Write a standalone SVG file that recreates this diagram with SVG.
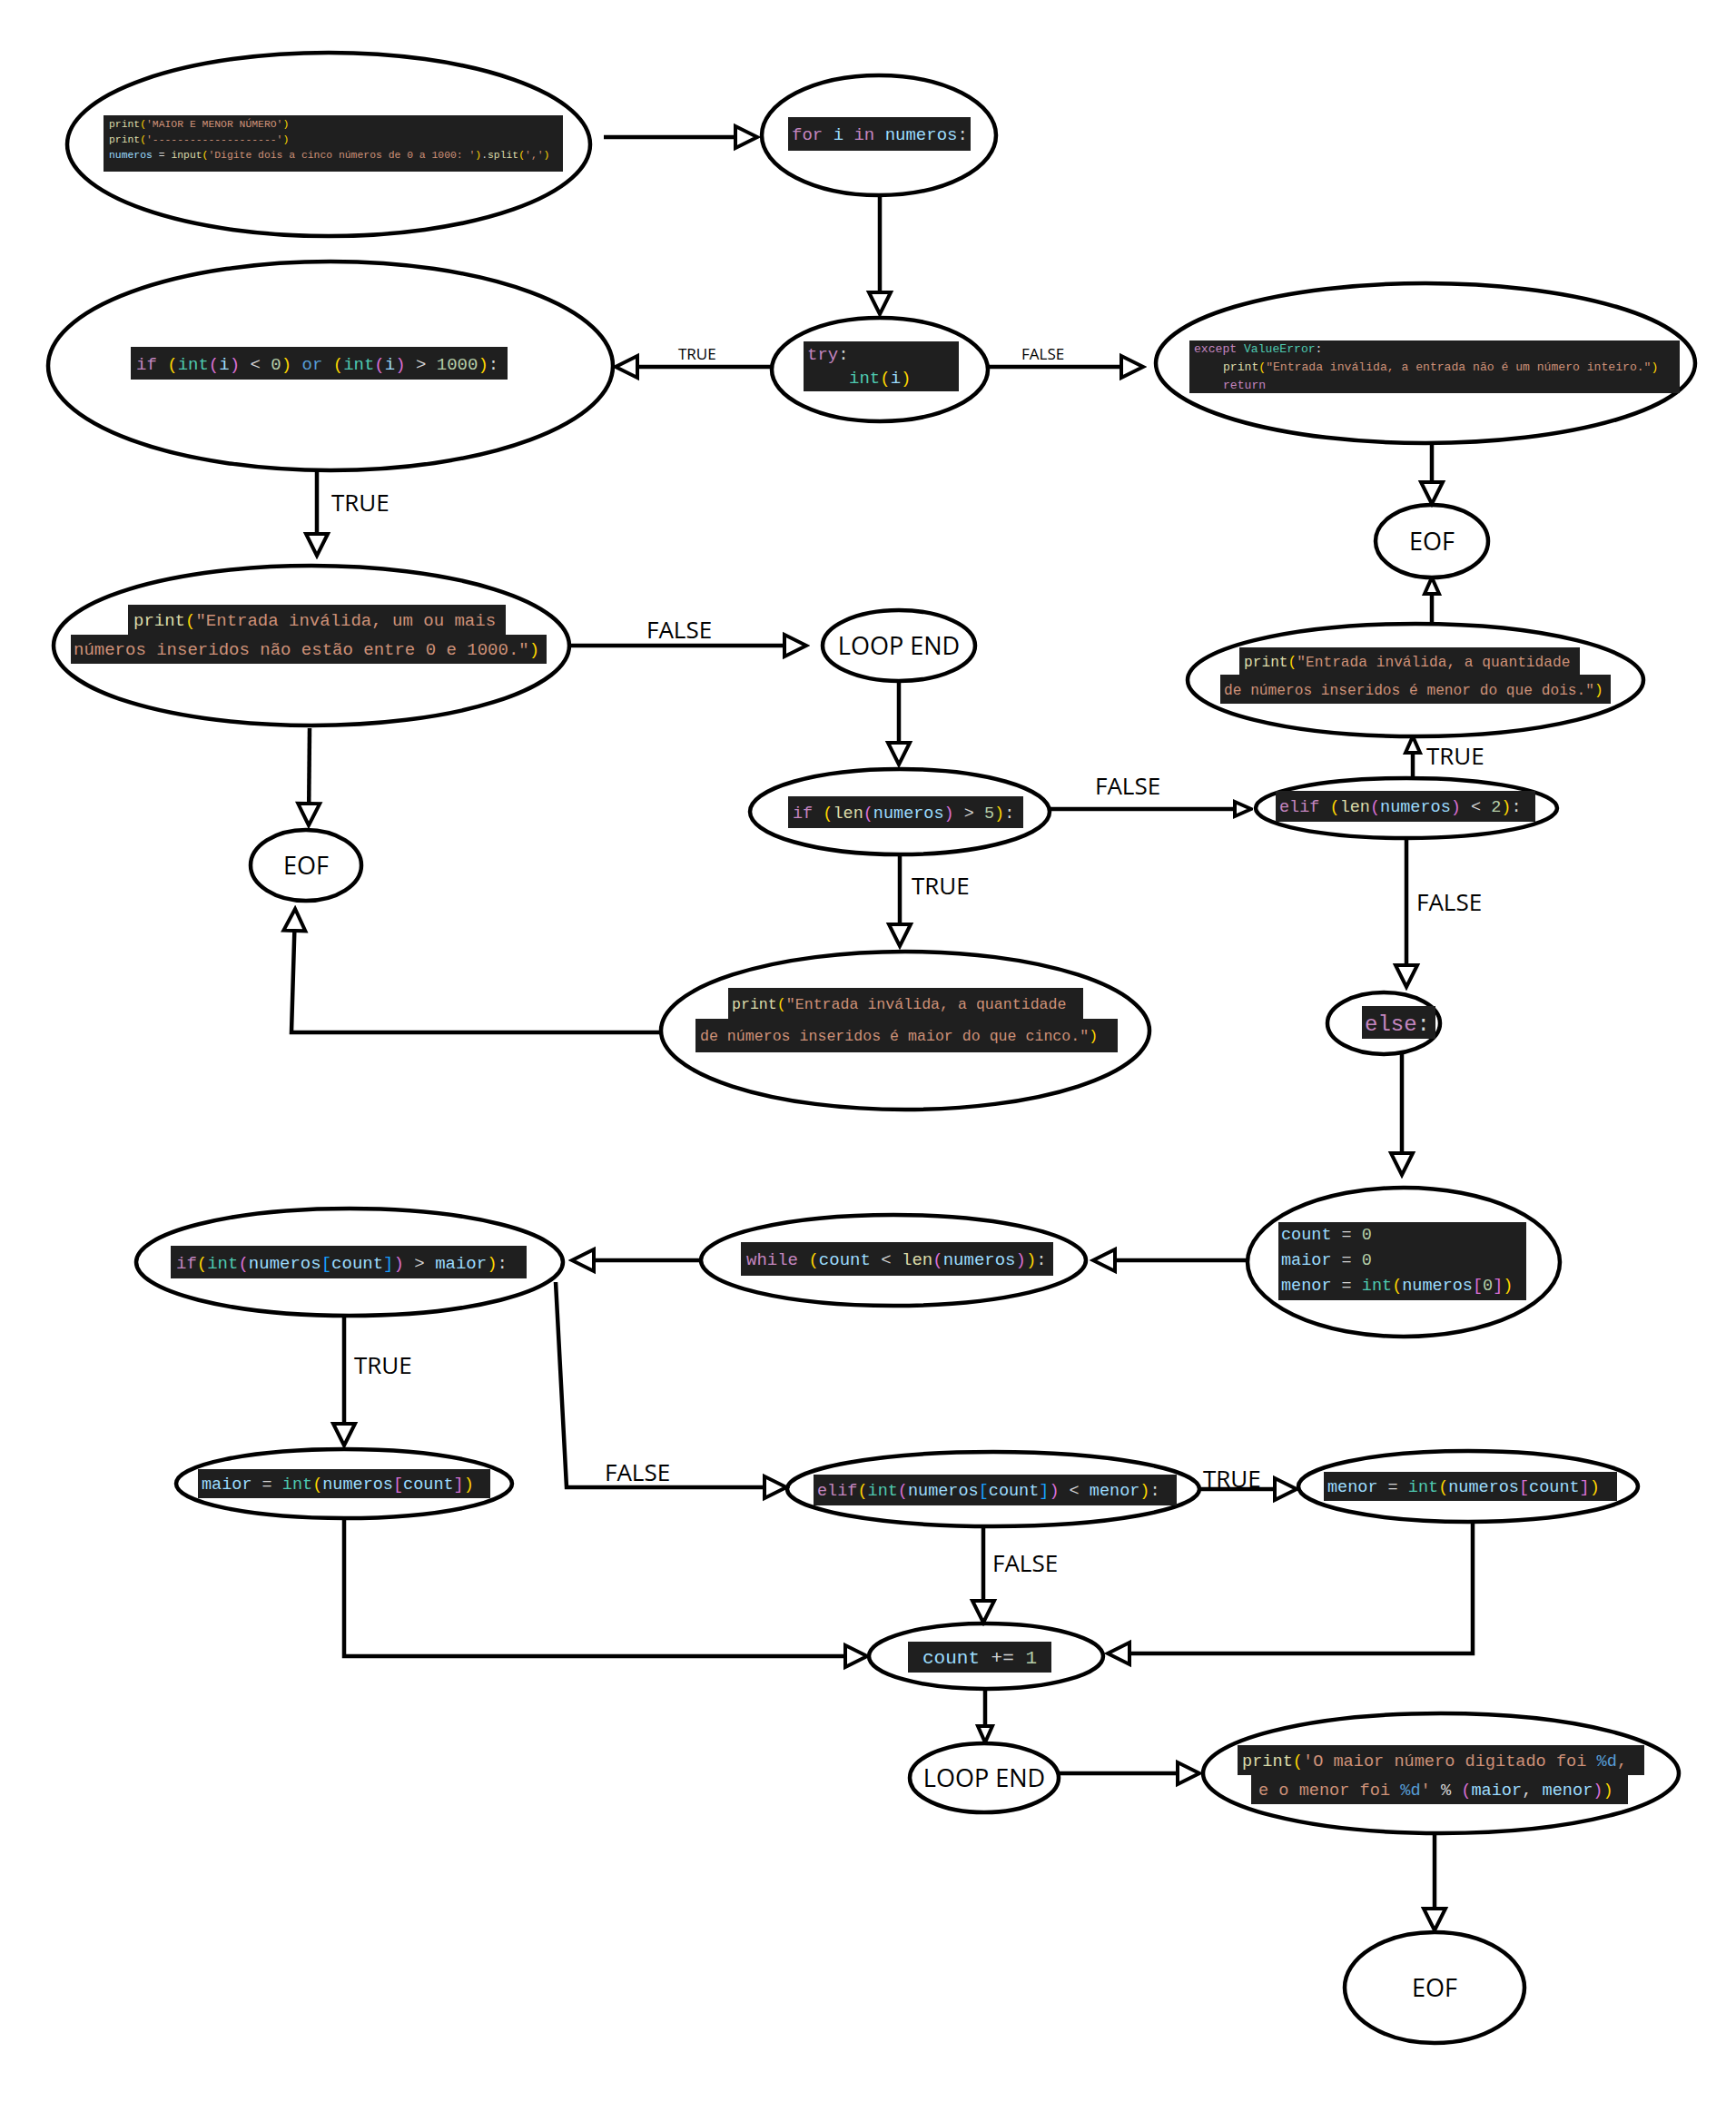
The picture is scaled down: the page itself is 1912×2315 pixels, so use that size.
<svg xmlns="http://www.w3.org/2000/svg" width="1912" height="2315" viewBox="0 0 1912 2315">
<defs>
<style>
.nd{fill:#fff;stroke:#000;stroke-width:4.5}
.cb{fill:#1f1f1f}
.code{font-family:"Liberation Mono","DejaVu Sans Mono",monospace;fill:#d4d4d4}
.k{fill:#c586c0}.v{fill:#9cdcfe}.f{fill:#dcdcaa}.t{fill:#4ec9b0}.s{fill:#ce9178}.n{fill:#b5cea8}.o{fill:#d4d4d4}.bl{fill:#569cd6}
.b1{fill:#ffd700}.b2{fill:#da70d6}.b3{fill:#179fff}
.lbl{font-family:"Open Sans","Noto Sans",sans-serif;fill:#000}
.cn{fill:none;stroke:#000;stroke-width:4.5;stroke-linejoin:miter}
</style>
<marker id="ah" viewBox="-4 -16 32 32" refX="22" refY="0" markerWidth="32" markerHeight="32" markerUnits="userSpaceOnUse" orient="auto">
<path d="M0,-12 L24,0 L0,12 Z" fill="#fff" stroke="#000" stroke-width="4"/>
</marker>
<marker id="ahs" viewBox="-4 -12 24 24" refX="16" refY="0" markerWidth="24" markerHeight="24" markerUnits="userSpaceOnUse" orient="auto">
<path d="M0,-8 L18,0 L0,8 Z" fill="#fff" stroke="#000" stroke-width="4"/>
</marker>
</defs>
<rect width="1912" height="2315" fill="#fff"/>

<g id="n-start">
<ellipse class="nd" cx="362" cy="159" rx="288" ry="101"/>
<rect class="cb" x="114" y="127" width="506" height="62"/>
<text class="code" font-size="11.4"><tspan x="120" y="140"><tspan class="f">print</tspan><tspan class="b1">(</tspan><tspan class="s">'MAIOR E MENOR NÚMERO'</tspan><tspan class="b1">)</tspan></tspan><tspan x="120" y="157"><tspan class="f">print</tspan><tspan class="b1">(</tspan><tspan class="s">'--------------------'</tspan><tspan class="b1">)</tspan></tspan><tspan x="120" y="174"><tspan class="v">numeros</tspan> = <tspan class="f">input</tspan><tspan class="b1">(</tspan><tspan class="s">'Digite dois a cinco números de 0 a 1000: '</tspan><tspan class="b1">)</tspan>.<tspan class="f">split</tspan><tspan class="b1">(</tspan><tspan class="s">','</tspan><tspan class="b1">)</tspan></tspan></text>
</g>

<g id="n-for">
<ellipse class="nd" cx="968" cy="149" rx="129" ry="66"/>
<rect class="cb" x="868" y="129" width="201" height="37"/>
<text class="code" font-size="19" x="872" y="154"><tspan class="k">for</tspan> <tspan class="v">i</tspan> <tspan class="k">in</tspan> <tspan class="v">numeros</tspan>:</text>
</g>

<g id="n-try">
<ellipse class="nd" cx="969" cy="407" rx="119" ry="57"/>
<rect class="cb" x="885" y="376" width="171" height="55"/>
<text class="code" font-size="19"><tspan x="889" y="396"><tspan class="k">try</tspan>:</tspan><tspan x="935" y="422"><tspan class="t">int</tspan><tspan class="b1">(</tspan><tspan class="v">i</tspan><tspan class="b1">)</tspan></tspan></text>
</g>

<g id="n-ifint">
<ellipse class="nd" cx="364" cy="403" rx="311" ry="115"/>
<rect class="cb" x="144" y="382" width="415" height="36"/>
<text class="code" font-size="19" x="150" y="407"><tspan class="k">if</tspan> <tspan class="b1">(</tspan><tspan class="t">int</tspan><tspan class="b2">(</tspan><tspan class="v">i</tspan><tspan class="b2">)</tspan> &lt; <tspan class="n">0</tspan><tspan class="b1">)</tspan> <tspan class="bl">or</tspan> <tspan class="b1">(</tspan><tspan class="t">int</tspan><tspan class="b2">(</tspan><tspan class="v">i</tspan><tspan class="b2">)</tspan> &gt; <tspan class="n">1000</tspan><tspan class="b1">)</tspan>:</text>
</g>

<g id="n-except">
<ellipse class="nd" cx="1570" cy="400" rx="297" ry="88"/>
<rect class="cb" x="1310" y="375" width="540" height="58"/>
<text class="code" font-size="13.1"><tspan x="1315" y="388"><tspan class="k">except</tspan> <tspan class="t">ValueError</tspan>:</tspan><tspan x="1347" y="408"><tspan class="f">print</tspan><tspan class="b1">(</tspan><tspan class="s">"Entrada inválida, a entrada não é um número inteiro."</tspan><tspan class="b1">)</tspan></tspan><tspan x="1347" y="428"><tspan class="k">return</tspan></tspan></text>
</g>

<g id="n-eof1">
<ellipse class="nd" cx="1577" cy="596" rx="62" ry="40"/>
<text class="lbl" font-size="27" x="1577" y="606" text-anchor="middle">EOF</text>
</g>

<g id="n-printdois">
<ellipse class="nd" cx="1559" cy="749" rx="251" ry="62"/>
<rect class="cb" x="1365" y="713" width="375" height="30"/>
<rect class="cb" x="1344" y="743" width="430" height="32"/>
<text class="code" font-size="16.2"><tspan x="1370" y="734"><tspan class="f">print</tspan><tspan class="b1">(</tspan><tspan class="s">"Entrada inválida, a quantidade</tspan></tspan><tspan x="1348" y="765"><tspan class="s">de números inseridos é menor do que dois."</tspan><tspan class="b1">)</tspan></tspan></text>
</g>

<g id="n-eliflen">
<ellipse class="nd" cx="1549" cy="890" rx="166" ry="33"/>
<rect class="cb" x="1405" y="871" width="286" height="34"/>
<text class="code" font-size="18.5" x="1409" y="894"><tspan class="k">elif</tspan> <tspan class="b1">(</tspan><tspan class="f">len</tspan><tspan class="b2">(</tspan><tspan class="v">numeros</tspan><tspan class="b2">)</tspan> &lt; <tspan class="n">2</tspan><tspan class="b1">)</tspan>:</text>
</g>

<g id="n-printmais">
<ellipse class="nd" cx="343" cy="711" rx="284" ry="88"/>
<rect class="cb" x="141" y="666" width="416" height="33"/>
<rect class="cb" x="78" y="699" width="524" height="32"/>
<text class="code" font-size="19"><tspan x="147" y="689"><tspan class="f">print</tspan><tspan class="b1">(</tspan><tspan class="s">"Entrada inválida, um ou mais</tspan></tspan><tspan x="81" y="721"><tspan class="s">números inseridos não estão entre 0 e 1000."</tspan><tspan class="b1">)</tspan></tspan></text>
</g>

<g id="n-loopend1">
<ellipse class="nd" cx="990" cy="711" rx="84" ry="39"/>
<text class="lbl" font-size="27" x="990" y="721" text-anchor="middle">LOOP END</text>
</g>

<g id="n-eof2">
<ellipse class="nd" cx="337" cy="953" rx="61" ry="39"/>
<text class="lbl" font-size="27" x="337" y="963" text-anchor="middle">EOF</text>
</g>

<g id="n-iflen">
<ellipse class="nd" cx="991" cy="894" rx="165" ry="47"/>
<rect class="cb" x="868" y="877" width="259" height="35"/>
<text class="code" font-size="18.5" x="873" y="901"><tspan class="k">if</tspan> <tspan class="b1">(</tspan><tspan class="f">len</tspan><tspan class="b2">(</tspan><tspan class="v">numeros</tspan><tspan class="b2">)</tspan> &gt; <tspan class="n">5</tspan><tspan class="b1">)</tspan>:</text>
</g>

<g id="n-printcinco">
<ellipse class="nd" cx="997" cy="1135" rx="269" ry="87"/>
<rect class="cb" x="802" y="1088" width="391" height="34"/>
<rect class="cb" x="766" y="1122" width="465" height="37"/>
<text class="code" font-size="16.6"><tspan x="806" y="1111"><tspan class="f">print</tspan><tspan class="b1">(</tspan><tspan class="s">"Entrada inválida, a quantidade</tspan></tspan><tspan x="771" y="1146"><tspan class="s">de números inseridos é maior do que cinco."</tspan><tspan class="b1">)</tspan></tspan></text>
</g>

<g id="n-else">
<ellipse class="nd" cx="1524" cy="1127" rx="62" ry="34"/>
<rect class="cb" x="1500" y="1108" width="81" height="36"/>
<text class="code" font-size="24" x="1503" y="1135"><tspan class="k">else</tspan>:</text>
</g>

<g id="n-init">
<ellipse class="nd" cx="1546" cy="1390" rx="172" ry="82"/>
<rect class="cb" x="1408" y="1346" width="273" height="86"/>
<text class="code" font-size="18.5"><tspan x="1411" y="1365"><tspan class="v">count</tspan> = <tspan class="n">0</tspan></tspan><tspan x="1411" y="1393"><tspan class="v">maior</tspan> = <tspan class="n">0</tspan></tspan><tspan x="1411" y="1421"><tspan class="v">menor</tspan> = <tspan class="t">int</tspan><tspan class="b1">(</tspan><tspan class="v">numeros</tspan><tspan class="b2">[</tspan><tspan class="n">0</tspan><tspan class="b2">]</tspan><tspan class="b1">)</tspan></tspan></text>
</g>

<g id="n-while">
<ellipse class="nd" cx="984" cy="1388" rx="212" ry="50"/>
<rect class="cb" x="816" y="1368" width="344" height="37"/>
<text class="code" font-size="19" x="822" y="1393"><tspan class="k">while</tspan> <tspan class="b1">(</tspan><tspan class="v">count</tspan> &lt; <tspan class="f">len</tspan><tspan class="b2">(</tspan><tspan class="v">numeros</tspan><tspan class="b2">)</tspan><tspan class="b1">)</tspan>:</text>
</g>

<g id="n-ifmaior">
<ellipse class="nd" cx="385" cy="1390" rx="235" ry="59"/>
<rect class="cb" x="188" y="1372" width="392" height="36"/>
<text class="code" font-size="19" x="194" y="1397"><tspan class="k">if</tspan><tspan class="b1">(</tspan><tspan class="t">int</tspan><tspan class="b2">(</tspan><tspan class="v">numeros</tspan><tspan class="b3">[</tspan><tspan class="v">count</tspan><tspan class="b3">]</tspan><tspan class="b2">)</tspan> &gt; <tspan class="v">maior</tspan><tspan class="b1">)</tspan>:</text>
</g>

<g id="n-maior">
<ellipse class="nd" cx="379" cy="1634" rx="185" ry="38"/>
<rect class="cb" x="218" y="1618" width="322" height="32"/>
<text class="code" font-size="18.5" x="222" y="1640"><tspan class="v">maior</tspan> = <tspan class="t">int</tspan><tspan class="b1">(</tspan><tspan class="v">numeros</tspan><tspan class="b2">[</tspan><tspan class="v">count</tspan><tspan class="b2">]</tspan><tspan class="b1">)</tspan></text>
</g>

<g id="n-elifmenor">
<ellipse class="nd" cx="1094" cy="1640" rx="227" ry="41"/>
<rect class="cb" x="896" y="1624" width="400" height="34"/>
<text class="code" font-size="18.5" x="900" y="1647"><tspan class="k">elif</tspan><tspan class="b1">(</tspan><tspan class="t">int</tspan><tspan class="b2">(</tspan><tspan class="v">numeros</tspan><tspan class="b3">[</tspan><tspan class="v">count</tspan><tspan class="b3">]</tspan><tspan class="b2">)</tspan> &lt; <tspan class="v">menor</tspan><tspan class="b1">)</tspan>:</text>
</g>

<g id="n-menor">
<ellipse class="nd" cx="1617" cy="1637" rx="187" ry="39"/>
<rect class="cb" x="1458" y="1621" width="323" height="32"/>
<text class="code" font-size="18.5" x="1462" y="1643"><tspan class="v">menor</tspan> = <tspan class="t">int</tspan><tspan class="b1">(</tspan><tspan class="v">numeros</tspan><tspan class="b2">[</tspan><tspan class="v">count</tspan><tspan class="b2">]</tspan><tspan class="b1">)</tspan></text>
</g>

<g id="n-count">
<ellipse class="nd" cx="1086" cy="1824" rx="129" ry="36"/>
<rect class="cb" x="1000" y="1808" width="158" height="34"/>
<text class="code" font-size="21" x="1016" y="1832"><tspan class="v">count</tspan> += <tspan class="n">1</tspan></text>
</g>

<g id="n-loopend2">
<ellipse class="nd" cx="1084" cy="1958" rx="82" ry="38"/>
<text class="lbl" font-size="27" x="1084" y="1968" text-anchor="middle">LOOP END</text>
</g>

<g id="n-printfinal">
<ellipse class="nd" cx="1587" cy="1953" rx="262" ry="66"/>
<rect class="cb" x="1363" y="1922" width="448" height="33"/>
<rect class="cb" x="1378" y="1955" width="415" height="32"/>
<text class="code" font-size="18.6"><tspan x="1368" y="1945"><tspan class="f">print</tspan><tspan class="b1">(</tspan><tspan class="s">'O maior número digitado foi </tspan><tspan class="bl">%d</tspan><tspan class="s">,</tspan></tspan><tspan x="1386" y="1977"><tspan class="s">e o menor foi </tspan><tspan class="bl">%d</tspan><tspan class="s">'</tspan> % <tspan class="b2">(</tspan><tspan class="v">maior</tspan>, <tspan class="v">menor</tspan><tspan class="b2">)</tspan><tspan class="b1">)</tspan></tspan></text>
</g>

<g id="n-eof3">
<ellipse class="nd" cx="1580" cy="2189" rx="99" ry="61"/>
<text class="lbl" font-size="27" x="1580" y="2199" text-anchor="middle">EOF</text>
</g>

<g id="connectors">
<path class="cn" d="M665,151 H832" marker-end="url(#ah)"/>
<path class="cn" d="M969,215 V344" marker-end="url(#ah)"/>
<path class="cn" d="M850,404 H680" marker-end="url(#ah)"/>
<path class="cn" d="M1088,404 H1257" marker-end="url(#ah)"/>
<path class="cn" d="M1577,488 V553" marker-end="url(#ah)"/>
<path class="cn" d="M1577,687 V638" marker-end="url(#ahs)"/>
<path class="cn" d="M1556,857 V813" marker-end="url(#ahs)"/>
<path class="cn" d="M349,519 V610" marker-end="url(#ah)"/>
<path class="cn" d="M628,711 H886" marker-end="url(#ah)"/>
<path class="cn" d="M341,802 L340,907" marker-end="url(#ah)"/>
<path class="cn" d="M990,750 V840" marker-end="url(#ah)"/>
<path class="cn" d="M1156,891 H1376" marker-end="url(#ahs)"/>
<path class="cn" d="M991,941 V1040" marker-end="url(#ah)"/>
<path class="cn" d="M728,1137 H321 L325,1003" marker-end="url(#ah)"/>
<path class="cn" d="M1549,922 V1085" marker-end="url(#ah)"/>
<path class="cn" d="M1544,1160 V1292" marker-end="url(#ah)"/>
<path class="cn" d="M1374,1388 H1206" marker-end="url(#ah)"/>
<path class="cn" d="M772,1388 H632" marker-end="url(#ah)"/>
<path class="cn" d="M379,1449 V1590" marker-end="url(#ah)"/>
<path class="cn" d="M612,1412 L624,1638 H864" marker-end="url(#ah)"/>
<path class="cn" d="M1321,1640 H1426" marker-end="url(#ah)"/>
<path class="cn" d="M1083,1681 V1785" marker-end="url(#ah)"/>
<path class="cn" d="M379,1672 V1824 H953" marker-end="url(#ah)"/>
<path class="cn" d="M1622,1677 V1821 H1222" marker-end="url(#ah)"/>
<path class="cn" d="M1085,1860 V1917" marker-end="url(#ahs)"/>
<path class="cn" d="M1166,1953 H1319" marker-end="url(#ah)"/>
<path class="cn" d="M1580,2019 V2124" marker-end="url(#ah)"/>
<text class="lbl" font-size="17" x="747" y="396">TRUE</text>
<text class="lbl" font-size="17" x="1125" y="396">FALSE</text>
<text class="lbl" font-size="26" x="365" y="563">TRUE</text>
<text class="lbl" font-size="26" x="712" y="703">FALSE</text>
<text class="lbl" font-size="26" x="1206" y="875">FALSE</text>
<text class="lbl" font-size="26" x="1571" y="842">TRUE</text>
<text class="lbl" font-size="26" x="1004" y="985">TRUE</text>
<text class="lbl" font-size="26" x="1560" y="1003">FALSE</text>
<text class="lbl" font-size="26" x="390" y="1513">TRUE</text>
<text class="lbl" font-size="26" x="666" y="1631">FALSE</text>
<text class="lbl" font-size="26" x="1325" y="1638">TRUE</text>
<text class="lbl" font-size="26" x="1093" y="1731">FALSE</text>
</g>
</svg>
